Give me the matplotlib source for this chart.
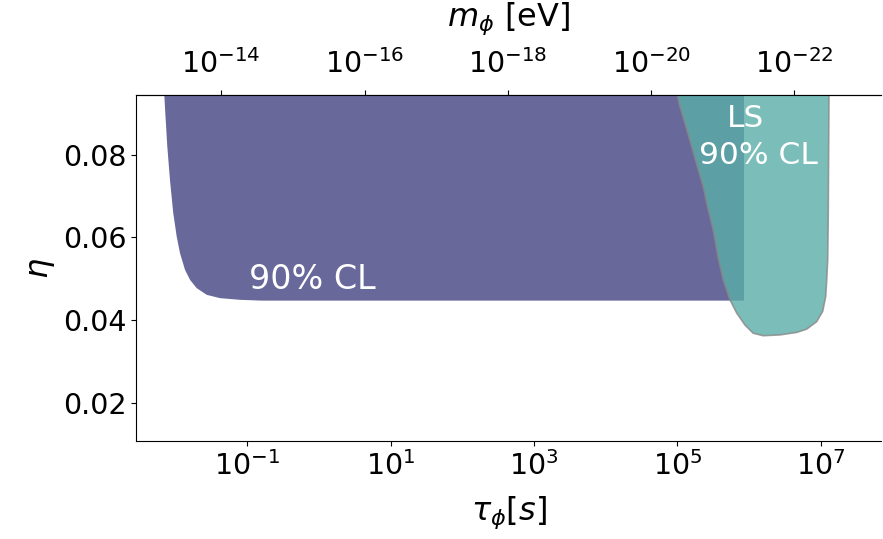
import numpy as np
import matplotlib
matplotlib.use("Agg")
import matplotlib.pyplot as plt
from matplotlib.ticker import NullLocator

# ---- data (log10 tau [s], eta) ----
main_logtau = [-2.165, -2.161, -2.147, -2.119, -2.082, -2.036, -1.988, -1.942, -1.872, -1.802,
               -1.709, -1.569, -1.384, -1.105, -0.8, 5.93, 5.93]
main_eta = [0.100, 0.0945, 0.0901, 0.0820, 0.07395, 0.06588, 0.06022, 0.05620, 0.05215, 0.04973,
            0.04772, 0.04610, 0.04530, 0.04489, 0.0447, 0.0447, 0.100]

ls_logtau = [4.99, 4.998, 5.036, 5.106, 5.200, 5.292, 5.361, 5.431, 5.501, 5.575, 5.641, 5.734,
             5.828, 5.943, 6.059, 6.199, 6.432, 6.665, 6.805, 6.944, 7.028, 7.070, 7.084,
             7.098, 7.106, 7.116, 7.12]
ls_eta = [0.100, 0.0945, 0.0917, 0.0877, 0.0820, 0.0764, 0.0723, 0.0667, 0.0618, 0.0546, 0.0497,
          0.0449, 0.0417, 0.0388, 0.0368, 0.0362, 0.0364, 0.0370, 0.0378, 0.0396, 0.0421,
          0.0457, 0.0497, 0.0546, 0.0660, 0.0945, 0.100]

bottom_ticks = [1e-1, 1e1, 1e3, 1e5, 1e7]
bottom_ticklabels = [r"$10^{-1}$", r"$10^{1}$", r"$10^{3}$", r"$10^{5}$", r"$10^{7}$"]
top_ticks = [1e-14, 1e-16, 1e-18, 1e-20, 1e-22]
top_ticklabels = [r"$10^{-14}$", r"$10^{-16}$", r"$10^{-18}$", r"$10^{-20}$", r"$10^{-22}$"]
y_ticks = [0.02, 0.04, 0.06, 0.08]

C_CONV = 4.3e-16  # m [eV] = C / tau [s]

fig = plt.figure(figsize=(8.83, 5.39), dpi=100)
ax = fig.add_axes([136/883, 1-441/539, (881-136)/883, (441-95)/539])
ax.set_xscale("log")
ax.set_xlim(10**-2.556, 10**7.842)
ax.set_ylim(0.0107, 0.0945)

ax.fill(10**np.array(main_logtau), main_eta, color="#68689b", lw=0, zorder=1)
ax.fill(10**np.array(ls_logtau), ls_eta, facecolor="#5aaea8", alpha=0.8,
        edgecolor="#888888", lw=1.2, zorder=2)

ax.text(10**-0.09, 0.0499, "90% CL", color="white", fontsize=24, ha="center", va="center", zorder=3)
ax.text(10**5.957, 0.0887, "LS", color="white", fontsize=22.5, ha="center", va="center", zorder=3)
ax.text(10**6.125, 0.0799, "90% CL", color="white", fontsize=22.5, ha="center", va="center", zorder=3)

ax.set_xticks(bottom_ticks)
ax.set_xticklabels(bottom_ticklabels)
ax.xaxis.set_minor_locator(NullLocator())
ax.set_yticks(y_ticks)
ax.set_yticklabels([f"{v:.2f}" for v in y_ticks])
ax.tick_params(labelsize=20.5)
ax.spines["right"].set_visible(False)
ax.set_xlabel(r"$\tau_\phi[s]$", fontsize=23, labelpad=10)
ax.set_ylabel(r"$\eta$", fontsize=23)

sec = ax.secondary_xaxis("top", functions=(lambda t: C_CONV / t, lambda m: C_CONV / m))
sec.set_xticks(top_ticks)
sec.set_xticklabels(top_ticklabels)
sec.xaxis.set_minor_locator(NullLocator())
sec.tick_params(labelsize=20.5, pad=8)
sec.set_xlabel(r"$m_\phi$ [eV]", fontsize=23, labelpad=17)

fig.savefig("out.png", dpi=100)
